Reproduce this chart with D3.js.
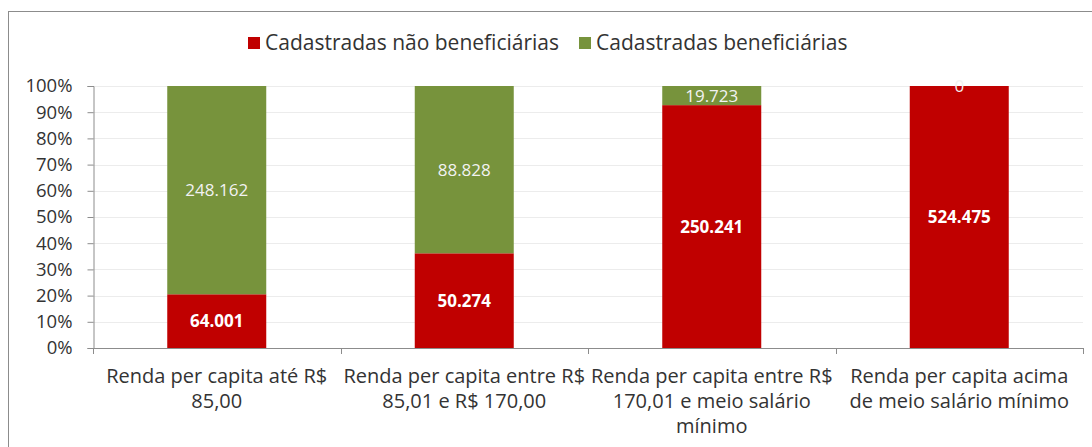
<!DOCTYPE html>
<html>
<head>
<meta charset="utf-8">
<script src="https://cdn.jsdelivr.net/npm/d3@7"></script>
<style>
  html, body { margin: 0; padding: 0; background: #fff; }
  svg { display: block; font-family: "Open Sans", sans-serif; }
</style>
</head>
<body>
<svg id="chart" width="1092" height="447"></svg>
<script>
// Income brackets (each label split into lines)
const categories = [
  ["Renda per capita até R$", "85,00"],
  ["Renda per capita entre R$", "85,01 e R$ 170,00"],
  ["Renda per capita entre R$", "170,01 e meio salário", "mínimo"],
  ["Renda per capita acima", "de meio salário mínimo"]
];
const seriesNames = ["Cadastradas não beneficiárias", "Cadastradas beneficiárias"];
const naoBeneficiarias = [64001, 50274, 250241, 524475];
const beneficiarias = [248162, 88828, 19723, 0];
const tickLabels = ["0%", "10%", "20%", "30%", "40%", "50%", "60%", "70%", "80%", "90%", "100%"];
const colors = ["#C00000", "#77933C"];

const svg = d3.select("#chart");
const fmt = d3.format(",d");
const ptNum = v => fmt(v).replace(/,/g, ".");

const plotLeft = 93, plotRight = 1083, plotTop = 86, plotBottom = 348;

// Outer frame
svg.append("rect")
  .attr("x", 8.5).attr("y", 11.5)
  .attr("width", 1200).attr("height", 600)
  .attr("fill", "none").attr("stroke", "#8c8c8c").attr("stroke-width", 1);

const keys = categories.map((c, i) => i);
const x = d3.scaleBand().domain(keys).range([plotLeft, plotRight]).paddingInner(0.6).paddingOuter(0.3);
const y = d3.scaleLinear().domain([0, 1]).range([plotBottom, plotTop]);

const rows = keys.map(i => ({ cat: i, s0: naoBeneficiarias[i], s1: beneficiarias[i] }));
const stacked = d3.stack().keys(["s0", "s1"]).offset(d3.stackOffsetExpand)(rows);

// Gridlines
svg.append("g").selectAll("line")
  .data(d3.range(1, 11).map(d => d / 10))
  .join("line")
  .attr("x1", plotLeft).attr("x2", plotRight)
  .attr("y1", d => Math.round(y(d)) + 0.5).attr("y2", d => Math.round(y(d)) + 0.5)
  .attr("stroke", "#ececec").attr("stroke-width", 1);

// Bars
svg.append("g").selectAll("g")
  .data(stacked)
  .join("g")
  .attr("fill", (d, i) => colors[i])
  .selectAll("rect")
  .data(d => d)
  .join("rect")
  .attr("x", d => x(d.data.cat))
  .attr("width", x.bandwidth())
  .attr("y", d => y(d[1]))
  .attr("height", d => y(d[0]) - y(d[1]));

// Value labels
const raw = [naoBeneficiarias, beneficiarias];
stacked.forEach((layer, si) => {
  svg.append("g").selectAll("text")
    .data(layer)
    .join("text")
    .attr("x", d => x(d.data.cat) + x.bandwidth() / 2)
    .attr("y", d => y((d[0] + d[1]) / 2))
    .attr("dy", "0.35em")
    .attr("text-anchor", "middle")
    .attr("fill", si === 0 ? "#ffffff" : "#f2f2f2")
    .attr("font-weight", si === 0 ? "bold" : "normal")
    .attr("font-size", 17)
    .text(d => ptNum(raw[si][d.data.cat]));
});

// Y axis
const yAxis = d3.axisLeft(y).tickValues(d3.range(0, 11).map(d => d / 10))
  .tickFormat((d, i) => tickLabels[i]).tickSize(6).tickPadding(15);
const gy = svg.append("g").attr("transform", `translate(${plotLeft + 0.5},0)`).call(yAxis);
gy.select(".domain").attr("stroke", "#8c8c8c");
gy.selectAll(".tick line").attr("stroke", "#8c8c8c");
gy.selectAll(".tick text").attr("font-size", 18.5).attr("fill", "#333")
  .attr("font-family", "'Open Sans', sans-serif");

// X axis baseline and category separators
const sep = d3.scaleLinear().domain([0, categories.length]).range([plotLeft, plotRight]);
svg.append("line")
  .attr("x1", plotLeft).attr("x2", plotRight)
  .attr("y1", plotBottom + 0.5).attr("y2", plotBottom + 0.5)
  .attr("stroke", "#8c8c8c");
svg.append("g").selectAll("line")
  .data(d3.range(0, categories.length + 1))
  .join("line")
  .attr("x1", d => Math.round(sep(d)) + 0.5).attr("x2", d => Math.round(sep(d)) + 0.5)
  .attr("y1", plotBottom).attr("y2", plotBottom + 6)
  .attr("stroke", "#8c8c8c");

// Category labels
const catG = svg.append("g").selectAll("text")
  .data(categories)
  .join("text")
  .attr("text-anchor", "middle")
  .attr("font-size", 20)
  .attr("fill", "#333");
catG.selectAll("tspan")
  .data((d, i) => d.map(line => ({ line, i })))
  .join("tspan")
  .attr("x", d => x(d.i) + x.bandwidth() / 2)
  .attr("y", (d, j) => 383 + j * 25)
  .text(d => d.line);

// Legend
const legendX = [248, 579];
const lg = svg.append("g").selectAll("g")
  .data(seriesNames)
  .join("g")
  .attr("transform", (d, i) => `translate(${legendX[i]},37)`);
lg.append("rect").attr("width", 12).attr("height", 12).attr("fill", (d, i) => colors[i]);
lg.append("text").attr("x", 17).attr("y", 12.5)
  .attr("font-size", 21).attr("fill", "#333").text(d => d);
</script>
</body>
</html>
